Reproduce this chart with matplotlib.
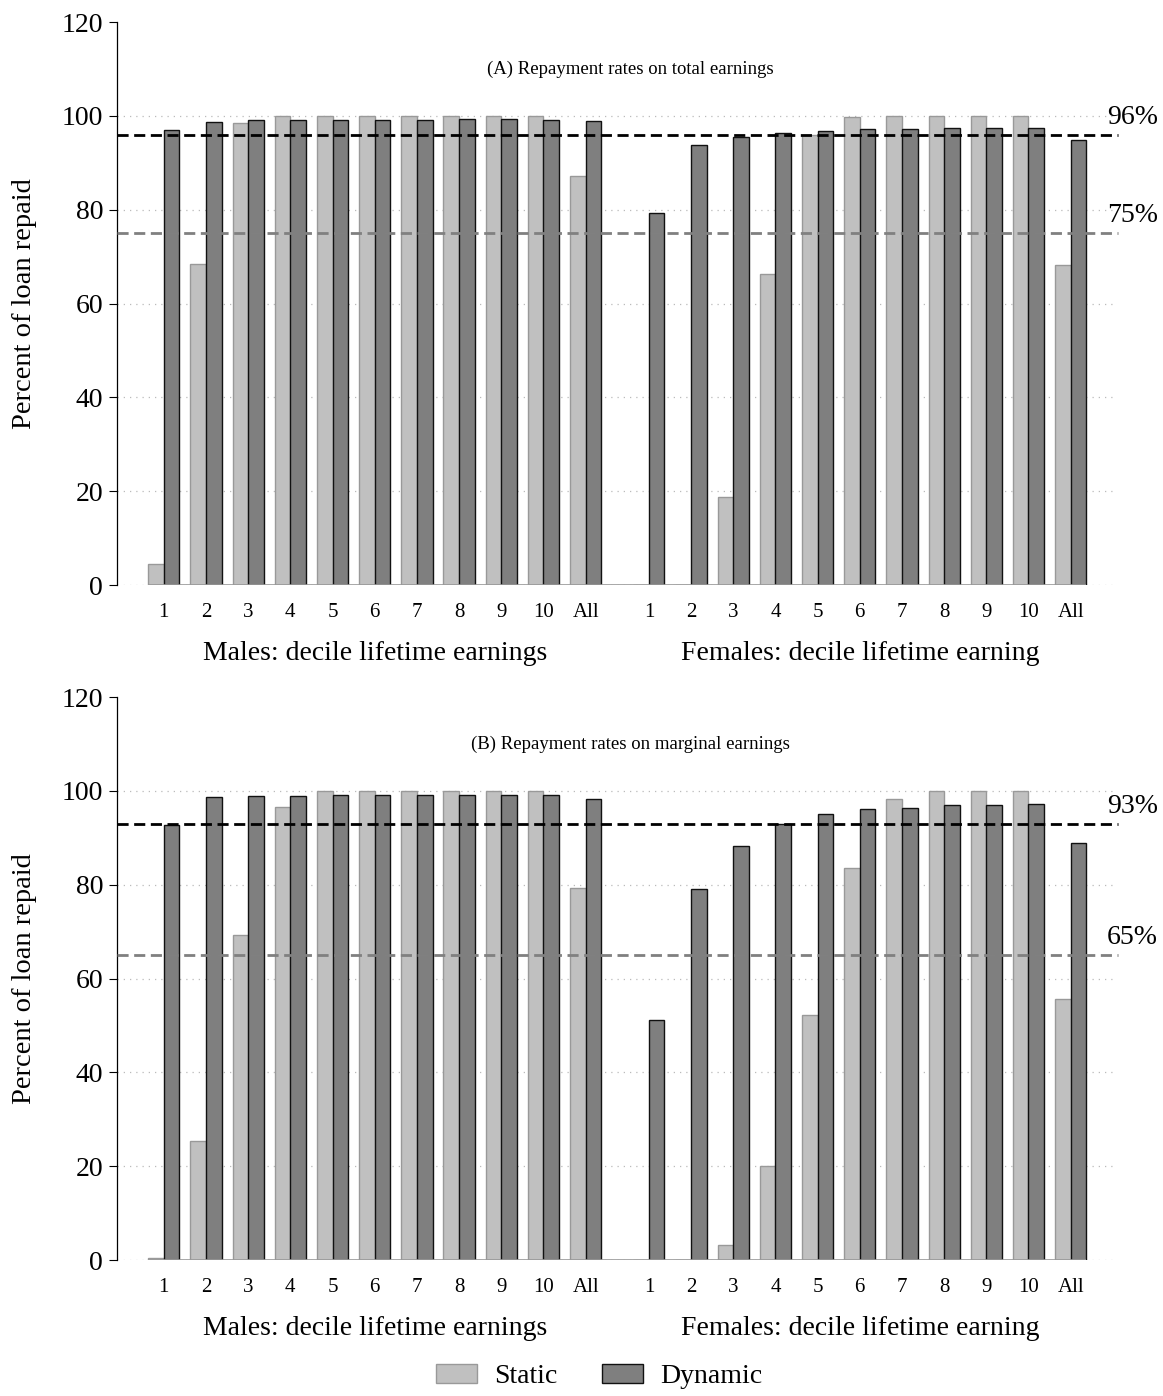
import numpy as np
import matplotlib.pyplot as plt
from matplotlib.patches import Patch

plt.rcParams['font.family'] = ['Liberation Serif', 'DejaVu Serif']

groups = ['1', '2', '3', '4', '5', '6', '7', '8', '9', '10', 'All']

# Panel A: repayment rates on total earnings
static_a_m = [4.5, 68.4, 98.5, 100, 100, 100, 100, 100, 100, 100, 87.1]
dynamic_a_m = [96.9, 98.8, 99.1, 99.1, 99.2, 99.2, 99.2, 99.3, 99.3, 99.2, 98.9]
static_a_f = [0, 0, 18.7, 66.2, 95.9, 99.8, 100, 100, 100, 100, 68.3]
dynamic_a_f = [79.4, 93.7, 95.4, 96.4, 96.7, 97.1, 97.1, 97.4, 97.4, 97.5, 94.8]

# Panel B: repayment rates on marginal earnings
static_b_m = [0.4, 25.4, 69.3, 96.6, 100, 100, 100, 100, 100, 100, 79.3]
dynamic_b_m = [92.7, 98.6, 98.9, 98.9, 99.1, 99.1, 99.1, 99.2, 99.2, 99.2, 98.3]
static_b_f = [0, 0, 3.2, 20.1, 52.3, 83.5, 98.3, 100, 100, 100, 55.7]
dynamic_b_f = [51.1, 79.1, 88.2, 93.0, 95.0, 96.1, 96.4, 97.0, 96.9, 97.2, 88.9]

panels = [
    ('(A) Repayment rates on total earnings', static_a_m, dynamic_a_m,
     static_a_f, dynamic_a_f, 96, 75),
    ('(B) Repayment rates on marginal earnings', static_b_m, dynamic_b_m,
     static_b_f, dynamic_b_f, 93, 65),
]

STATIC_C = '#c0c0c0'
DYN_C = '#7f7f7f'
W = 0.37

fig = plt.figure(figsize=(11.63, 13.96), dpi=100)
boxes = [[0.1006, 0.5809, 0.8581, 0.4033], [0.1006, 0.0974, 0.8581, 0.4033]]

x_m = np.arange(11)
x_f = np.arange(11) + 11.5
x_all = np.concatenate([x_m, x_f])

for box, (title, sm, dm, sf, df, hi, lo) in zip(boxes, panels):
    ax = fig.add_axes(box)
    s = np.array(sm + sf)
    d = np.array(dm + df)
    ax.bar(x_all - W / 2, s, W, color=STATIC_C, edgecolor='#999999', linewidth=1, zorder=3)
    ax.bar(x_all + W / 2, d, W, color=DYN_C, edgecolor='#111111', linewidth=1, zorder=3)

    ax.set_xlim(-1.11, 22.55)
    ax.set_ylim(0, 120)
    ax.set_yticks(range(0, 121, 20))
    for yv in range(0, 101, 20):
        ax.axhline(yv, color='#bbbbbb', linestyle=(0, (1, 4)), linewidth=0.9, zorder=1)
    ax.hlines(0, x_all[0] - W, x_all[-1] + W, color='#999999', linewidth=1.2, zorder=4)

    ax.axhline(hi, color='black', linestyle=(0, (4, 2)), linewidth=2, zorder=5, xmax=1.003, clip_on=False)
    ax.axhline(lo, color='#808080', linestyle=(0, (4, 2)), linewidth=2, zorder=5, xmax=1.003, clip_on=False)
    ax.text(0.992, hi + 1.0, f'{hi}%', transform=ax.get_yaxis_transform(), fontsize=20,
            ha='left', va='bottom', clip_on=False)
    ax.text(0.992, lo + 1.0, f'{lo}%', transform=ax.get_yaxis_transform(), fontsize=20,
            ha='left', va='bottom', clip_on=False)

    ax.set_xticks(x_all)
    ax.set_xticklabels(groups + groups, fontsize=15)
    ax.tick_params(axis='x', length=0, pad=13)
    ax.tick_params(axis='y', labelsize=20, length=6, width=0.8, pad=4)

    for side in ['top', 'right', 'bottom']:
        ax.spines[side].set_visible(False)
    ax.spines['left'].set_linewidth(0.9)

    ax.text(11.07, 110, title, fontsize=13.5, ha='center', va='center')
    ax.text(5, -14.5, 'Males: decile lifetime earnings', fontsize=20, ha='center', va='center')
    ax.text(16.5, -14.5, 'Females: decile lifetime earning', fontsize=20, ha='center', va='center')
    ax.set_ylabel('Percent of loan repaid', fontsize=20.5, labelpad=18)

handles = [Patch(facecolor=STATIC_C, edgecolor='#999999', label='Static'),
           Patch(facecolor=DYN_C, edgecolor='#111111', label='Dynamic')]
fig.legend(handles=handles, loc='lower center', bbox_to_anchor=(0.515, -0.013), ncol=2,
           frameon=False, fontsize=20, handlelength=1.5, handleheight=0.7,
           handletextpad=0.6, columnspacing=1.6)

fig.savefig('out.png', dpi=100)
